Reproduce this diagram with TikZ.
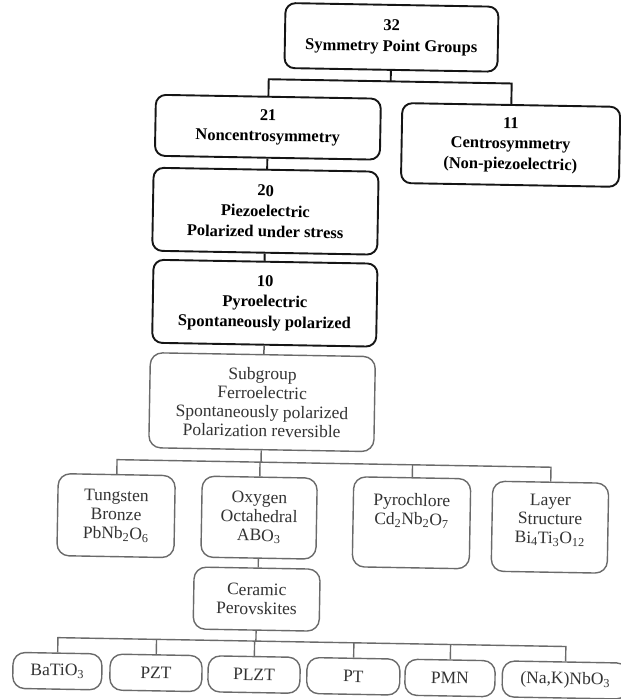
\documentclass[tikz,border=0pt]{standalone}
\usepackage{fontspec}
\setmainfont{Liberation Serif}
\definecolor{topink}{HTML}{151515}
\definecolor{lowink}{HTML}{6A6A6A}
\definecolor{lowtext}{HTML}{333333}
\begin{document}
\begin{tikzpicture}[x=1pt,y=-1pt,
  topbox/.style={draw=topink, line width=1.9pt, rounded corners=10pt, align=center,
    inner sep=0pt, text=black, font=\bfseries\fontsize{16.5}{20.5}\selectfont},
  lowbox/.style={draw=lowink, line width=1.4pt, rounded corners=12pt, align=center,
    inner sep=0pt, text=lowtext, font=\fontsize{17.5}{19}\selectfont},
  topwire/.style={draw=topink, line width=1.9pt},
  midwire/.style={draw=topink!70, line width=1.5pt},
  lowwire/.style={draw=lowink, line width=1.4pt}]
\useasboundingbox (0,0) rectangle (621,699);
\clip (0,0) rectangle (621,699);
\begin{scope}[rotate around={-1:(310,350)}, transform shape]
% top part
\node[topbox, minimum width=213pt, minimum height=65pt] (n32) at (386,36) {32\\Symmetry Point Groups};
\node[topbox, minimum width=225pt, minimum height=61pt] (n21) at (264,128) {21\\Noncentrosymmetry};
\node[topbox, minimum width=218pt, minimum height=80pt] (n11) at (507,141.5) {11\\Centrosymmetry\\(Non-piezoelectric)};
\node[topbox, minimum width=225pt, minimum height=83pt] (n20) at (263,212) {20\\Piezoelectric\\Polarized under stress};
\node[topbox, minimum width=224pt, minimum height=83pt] (n10) at (264,304) {10\\Pyroelectric\\Spontaneously polarized};
% lower part
\node[lowbox, minimum width=225pt, minimum height=95pt] (sub) at (263,403) {Subgroup\\Ferroelectric\\Spontaneously polarized\\Polarization reversible};
\node[lowbox, minimum width=117pt, minimum height=82pt] (tung) at (119,519) {Tungsten\\Bronze\\PbNb\textsubscript{2}O\textsubscript{6}};
\node[lowbox, minimum width=115pt, minimum height=81pt] (oxy) at (262,518.5) {Oxygen\\Octahedral\\ABO\textsubscript{3}};
\node[lowbox, minimum width=117pt, minimum height=90pt] (pyro) at (414.5,521) {Pyrochlore\\Cd\textsubscript{2}Nb\textsubscript{2}O\textsubscript{7}\\[8pt]\mbox{}};
\node[lowbox, minimum width=116pt, minimum height=90pt] (layer) at (553,523) {Layer\\Structure\\Bi\textsubscript{4}Ti\textsubscript{3}O\textsubscript{12}\\[-2pt]\mbox{}};
\node[lowbox, minimum width=126pt, minimum height=62pt] (cer) at (261,600) {Ceramic\\Perovskites};
\node[lowbox, minimum width=89pt, minimum height=36pt] (bat) at (63,675.5) {BaTiO\textsubscript{3}};
\node[lowbox, minimum width=92pt, minimum height=36pt] (pzt) at (161.6,675.5) {PZT};
\node[lowbox, minimum width=92pt, minimum height=36pt] (plzt) at (259.7,675.5) {PLZT};
\node[lowbox, minimum width=93pt, minimum height=36pt] (pt) at (359,675.5) {PT};
\node[lowbox, minimum width=90pt, minimum height=36pt] (pmn) at (455.7,675.5) {PMN};
\node[lowbox, minimum width=126pt, minimum height=36pt] (nak) at (571,675.5) {(Na,K)NbO\textsubscript{3}};
% junctions
\coordinate (b1) at (386,80);
\coordinate (b2) at (263,463);
\coordinate (b3) at (261,642);
% connectors
\draw[topwire] (n32.south) -- (b1);
\draw[topwire] (n21.north) |- (b1) -| (n11.north);
\draw[topwire] (n21.south) -- (n21.south |- n20.north);
\draw[topwire] (n20.south) -- (n20.south |- n10.north);
\draw[midwire] (n10.south) -- (n10.south |- sub.north);
\draw[lowwire] (sub.south) -- (b2);
\draw[lowwire] (tung.north) |- (b2) -| (layer.north);
\draw[lowwire] (oxy.north) -- (oxy.north |- b2);
\draw[lowwire] (pyro.north) -- (pyro.north |- b2);
\draw[lowwire] (oxy.south) -- (oxy.south |- cer.north);
\draw[lowwire] (cer.south) -- (b3);
\draw[lowwire] (bat.north) |- (b3) -| (nak.north);
\draw[lowwire] (pzt.north) -- (pzt.north |- b3);
\draw[lowwire] (plzt.north) -- (plzt.north |- b3);
\draw[lowwire] (pt.north) -- (pt.north |- b3);
\draw[lowwire] (pmn.north) -- (pmn.north |- b3);
\end{scope}
\end{tikzpicture}
\end{document}
